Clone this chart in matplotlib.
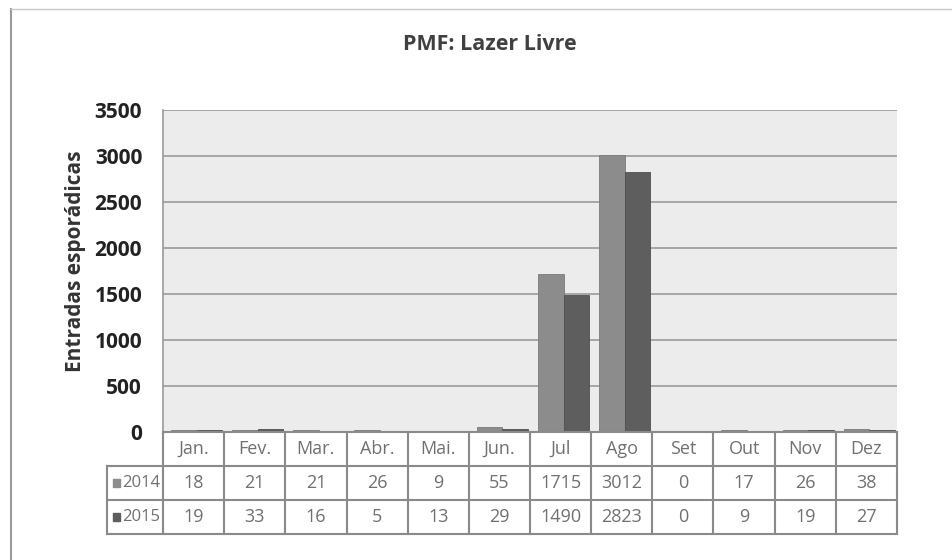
import matplotlib.pyplot as plt
from matplotlib.patches import Rectangle
from matplotlib.lines import Line2D

months = ["Jan.", "Fev.", "Mar.", "Abr.", "Mai.", "Jun.", "Jul", "Ago", "Set", "Out", "Nov", "Dez"]
v2014 = [18, 21, 21, 26, 9, 55, 1715, 3012, 0, 17, 26, 38]
v2015 = [19, 33, 16, 5, 13, 29, 1490, 2823, 0, 9, 19, 27]
series = ["2014", "2015"]

W, H = 953, 560
fig = plt.figure(figsize=(W / 100, H / 100), dpi=100)
fig.patch.set_facecolor("white")

def box(x0, y0, x1, y1):
    # pixel coords (top-left origin) -> figure fraction
    return [x0 / W, 1 - y1 / H, (x1 - x0) / W, (y1 - y0) / H]

font = "Open Sans"
c1 = "#8c8c8c"
c2 = "#5e5e5e"
tcol = "#707070"
lcol = "#8a8a8a"

# outer frame of the chart
fig.add_artist(Line2D([11 / W, 11 / W], [1 - 9 / H, 0], color="#9a9a9a", lw=1.5))
fig.add_artist(Line2D([11 / W, 1], [1 - 9 / H, 1 - 9 / H], color="#c8c8c8", lw=1))

# bar area
ax = fig.add_axes(box(163, 110, 897, 432))
ax.set_facecolor("#ececec")
x = list(range(12))
ax.bar([i + 0.34 for i in x], v2014, width=0.42, color=c1, edgecolor="#7a7a7a", lw=0.6, zorder=3)
ax.bar([i + 0.76 for i in x], v2015, width=0.42, color=c2, edgecolor="#4e4e4e", lw=0.6, zorder=3)
ax.set_xlim(0, 12)
ax.set_ylim(0, 3500)
ax.set_yticks(range(0, 3501, 500))
ax.set_xticks([])
ax.grid(axis="y", color="#9a9a9a", lw=1.2, zorder=1)
for s in ["top", "right", "bottom"]:
    ax.spines[s].set_visible(False)
ax.spines["left"].set_color("#9a9a9a")
ax.spines["left"].set_linewidth(1.2)
ax.tick_params(axis="y", length=0, pad=15, labelsize=15, labelcolor="#222222")
for t in ax.get_yticklabels():
    t.set_fontfamily(font)
    t.set_fontweight("bold")
ax.set_ylabel("Entradas esporádicas", fontsize=15, fontweight="bold", family=font,
              color="#333333")
ax.yaxis.set_label_coords(-0.105, 0.53)

fig.text(490 / W, 1 - 45 / H, "PMF: Lazer Livre", ha="center", va="center",
         fontsize=15.5, fontweight="bold", family=font, color="#404040")

# data table
tab = fig.add_axes(box(163, 432, 897, 534))
tab.set_xlim(0, 12)
tab.set_ylim(3, 0)
tab.axis("off")
lw = 1.5
left = -0.92
for r in range(4):
    x0 = 0 if r == 0 else left
    tab.plot([x0, 12], [r, r], color=lcol, lw=lw, clip_on=False)
for c in range(13):
    tab.plot([c, c], [0, 3], color=lcol, lw=lw, clip_on=False)
tab.plot([left, left], [1, 3], color=lcol, lw=lw, clip_on=False)

for i, m in enumerate(months):
    tab.text(i + 0.5, 0.5, m, ha="center", va="center", fontsize=13, color=tcol, family=font)
    tab.text(i + 0.5, 1.5, str(v2014[i]), ha="center", va="center", fontsize=13, color=tcol, family=font)
    tab.text(i + 0.5, 2.5, str(v2015[i]), ha="center", va="center", fontsize=13, color=tcol, family=font)

for r, (name, col) in enumerate(zip(series, [c1, c2])):
    y = 1.5 + r
    tab.add_patch(Rectangle((left + 0.1, y - 0.13), 0.11, 0.26, facecolor=col, edgecolor=col,
                            hatch="xxx" if r == 0 else None, clip_on=False))
    tab.text(left + 0.25, y, name, ha="left", va="center", fontsize=12, color=tcol, family=font)

fig.savefig("out.png", dpi=100)
